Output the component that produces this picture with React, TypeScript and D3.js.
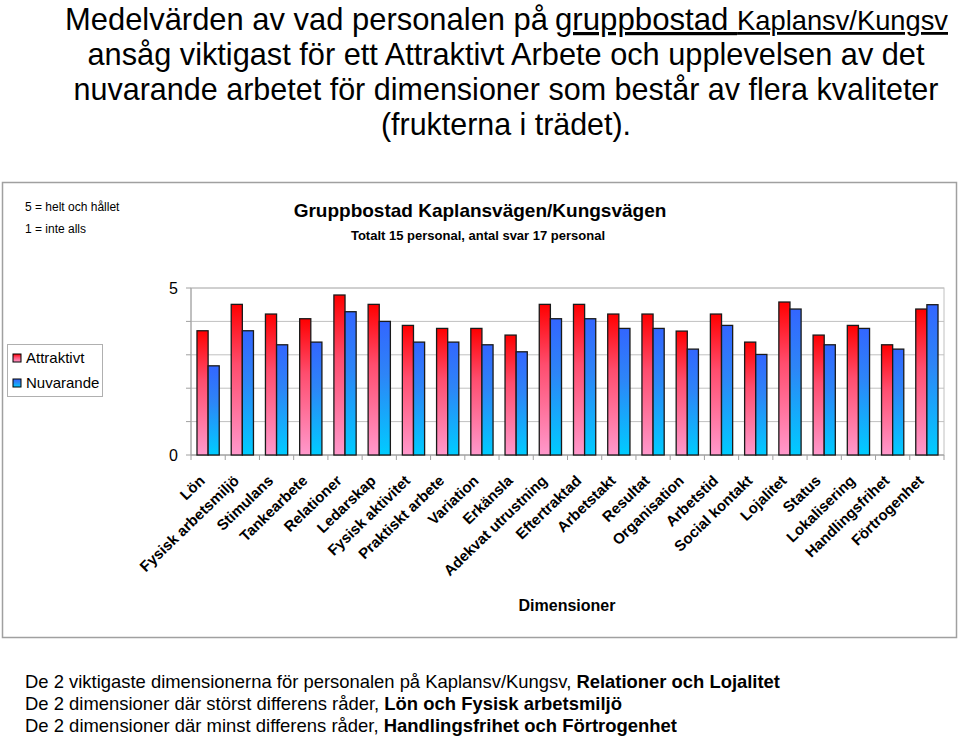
import React from "react";
import * as d3 from "d3";

const categories = [
  "Lön", "Fysisk arbetsmiljö", "Stimulans", "Tankearbete", "Relationer", "Ledarskap",
  "Fysisk aktivitet", "Praktiskt arbete", "Variation", "Erkänsla", "Adekvat utrustning",
  "Eftertraktad", "Arbetstakt", "Resultat", "Organisation", "Arbetstid", "Social kontakt",
  "Lojalitet", "Status", "Lokalisering", "Handlingsfrihet", "Förtrogenhet",
];
const attrVals = [3.72, 4.51, 4.22, 4.08, 4.79, 4.51, 3.88, 3.79, 3.79, 3.59, 4.51,
  4.51, 4.22, 4.22, 3.71, 4.22, 3.38, 4.58, 3.59, 3.88, 3.30, 4.37];
const nuvVals = [2.67, 3.72, 3.30, 3.38, 4.29, 4.00, 3.38, 3.38, 3.30, 3.09, 4.08,
  4.08, 3.79, 3.79, 3.17, 3.88, 3.01, 4.37, 3.30, 3.79, 3.17, 4.50];
const seriesNames = ["Attraktivt", "Nuvarande"];
const yTicks = [0, 1, 2, 3, 4, 5];
const yLabels = [0, 5];

const titleLines = [
  "ansåg viktigast för ett Attraktivt Arbete och upplevelsen av det",
  "nuvarande arbetet för dimensioner som består av flera kvaliteter",
  "(frukterna i trädet).",
];
const titleWidths = [837, 865, 250];

const notes = [
  ["De 2 viktigaste dimensionerna för personalen på Kaplansv/Kungsv, ", "Relationer och Lojalitet"],
  ["De 2 dimensioner där störst differens råder, ", "Lön och Fysisk arbetsmiljö"],
  ["De 2 dimensioner där minst differens råder, ", "Handlingsfrihet och Förtrogenhet"],
];
const noteWidths = [755, 597, 652];

const narrow = "'Liberation Sans Narrow', 'Arial Narrow', 'Liberation Sans', Arial, sans-serif";
const arial = "'Liberation Sans', Arial, Helvetica, sans-serif";

export default function App() {
  const W = 959, H = 738;
  const plotL = 191, plotR = 944, plotT = 288, plotB = 455;
  const x0 = d3.scaleBand<string>().domain(categories).range([plotL, plotR]).paddingInner(0.35).paddingOuter(0.175);
  const x1 = d3.scaleBand<string>().domain(seriesNames).range([0, x0.bandwidth()]).padding(0);
  const y = d3.scaleLinear().domain([0, 5]).range([plotB, plotT]);
  const step = x0.step();
  const data = categories.map((c, i) => ({ c, vals: [attrVals[i], nuvVals[i]] }));
  const gradIds = ["gRed", "gBlue"];

  return (
    <svg width={W} height={H} style={{ position: "absolute", left: 0, top: 0, background: "#fff" }}>
      <defs>
        <linearGradient id="gRed" x1="0" y1="0" x2="0" y2="1">
          <stop offset="0" stopColor="#ff0000" />
          <stop offset="0.4" stopColor="#ff4d6e" />
          <stop offset="1" stopColor="#ff99cc" />
        </linearGradient>
        <linearGradient id="gBlue" x1="0" y1="0" x2="0" y2="1">
          <stop offset="0" stopColor="#3366ff" />
          <stop offset="0.4" stopColor="#2d85f7" />
          <stop offset="1" stopColor="#00ccff" />
        </linearGradient>
      </defs>
      <rect x={0} y={0} width={W} height={H} fill="#fff" />

      {/* Title */}
      <text x={65} y={30} fontFamily={narrow} fontSize={32} fill="#000"
        textLength={483} lengthAdjust="spacingAndGlyphs">Medelvärden av vad personalen på</text>
      <text x={555} y={30} fontFamily={narrow} fontSize={32} fill="#000" textDecoration="underline"
        textLength={393} lengthAdjust="spacingAndGlyphs">
        <tspan>gruppbostad </tspan>
        <tspan fontSize={28}>Kaplansv/Kungsv</tspan>
      </text>
      {titleLines.map((t, i) => (
        <text key={i} x={506} y={65 + i * 35} textAnchor="middle" fontFamily={narrow} fontSize={32} fill="#000"
          textLength={titleWidths[i]} lengthAdjust="spacingAndGlyphs">{t}</text>
      ))}

      {/* Chart frame */}
      <rect x={2.5} y={182.5} width={954} height={455} fill="#fff" stroke="#a0a0a0" strokeWidth={1.5} />
      <text x={25} y={211} fontFamily={arial} fontSize={12} fill="#000">5 = helt och hållet</text>
      <text x={25} y={233} fontFamily={arial} fontSize={12} fill="#000">1 = inte alls</text>
      <text x={480} y={217} textAnchor="middle" fontFamily={arial} fontWeight="bold" fontSize={19} fill="#000">Gruppbostad Kaplansvägen/Kungsvägen</text>
      <text x={478} y={240} textAnchor="middle" fontFamily={arial} fontWeight="bold" fontSize={13} fill="#000">Totalt 15 personal, antal svar 17 personal</text>

      {/* Plot area */}
      <rect x={plotL} y={plotT} width={plotR - plotL} height={plotB - plotT} fill="#fff" stroke="#c0c0c0" strokeWidth={1} />
      {yTicks.map((t) => (
        <g key={t}>
          <line x1={plotL} x2={plotR} y1={y(t)} y2={y(t)} stroke="#c0c0c0" strokeWidth={1} />
          <line x1={plotL - 5} x2={plotL} y1={y(t)} y2={y(t)} stroke="#a0a0a0" strokeWidth={1} />
        </g>
      ))}
      <line x1={plotL} x2={plotL} y1={plotT} y2={plotB} stroke="#a0a0a0" strokeWidth={1} />
      <line x1={plotL} x2={plotR} y1={plotB} y2={plotB} stroke="#a0a0a0" strokeWidth={1} />
      {categories.map((c, i) => (
        <line key={c} x1={plotL + i * step + step} x2={plotL + i * step + step} y1={plotB} y2={plotB + 5} stroke="#a0a0a0" strokeWidth={1} />
      ))}
      <line x1={plotL} x2={plotL} y1={plotB} y2={plotB + 5} stroke="#a0a0a0" strokeWidth={1} />
      {yLabels.map((t) => (
        <text key={t} x={178} y={y(t) + 6} textAnchor="end" fontFamily={arial} fontSize={16} fill="#000">{t}</text>
      ))}

      {/* Bars */}
      {data.map((d) => (
        <g key={d.c} transform={`translate(${x0(d.c)},0)`}>
          {d.vals.map((v, j) => (
            <rect key={j} x={x1(seriesNames[j])} y={y(v)} width={x1.bandwidth()} height={plotB - y(v)}
              fill={`url(#${gradIds[j]})`} stroke="#1a1a1a" strokeWidth={1.3} />
          ))}
        </g>
      ))}

      {/* Category labels */}
      {categories.map((c) => {
        const cx = (x0(c) as number) + x0.bandwidth() / 2;
        return (
          <text key={c} transform={`translate(${cx - 6},${478}) rotate(-44)`} textAnchor="end" dy="0.35em"
            fontFamily={arial} fontWeight="bold" fontSize={15} fill="#000">{c}</text>
        );
      })}
      <text x={567} y={611} textAnchor="middle" fontFamily={arial} fontWeight="bold" fontSize={16} fill="#000">Dimensioner</text>

      {/* Legend */}
      <rect x={7.5} y={344.5} width={95} height={52} fill="#fff" stroke="#b0b0b0" strokeWidth={1} />
      {seriesNames.map((s, i) => (
        <g key={s}>
          <rect x={13} y={354 + i * 25} width={8} height={8} fill={`url(#${gradIds[i]})`} stroke="#000" strokeWidth={1} />
          <text x={26} y={363 + i * 25} fontFamily={arial} fontSize={15} fill="#000">{s}</text>
        </g>
      ))}

      {/* Bottom notes */}
      {notes.map((n, i) => (
        <text key={i} x={25} y={688 + i * 22} fontFamily={narrow} fontSize={19} fill="#000"
          textLength={noteWidths[i]} lengthAdjust="spacingAndGlyphs">
          <tspan>{n[0]}</tspan>
          <tspan fontWeight="bold">{n[1]}</tspan>
        </text>
      ))}
    </svg>
  );
}
